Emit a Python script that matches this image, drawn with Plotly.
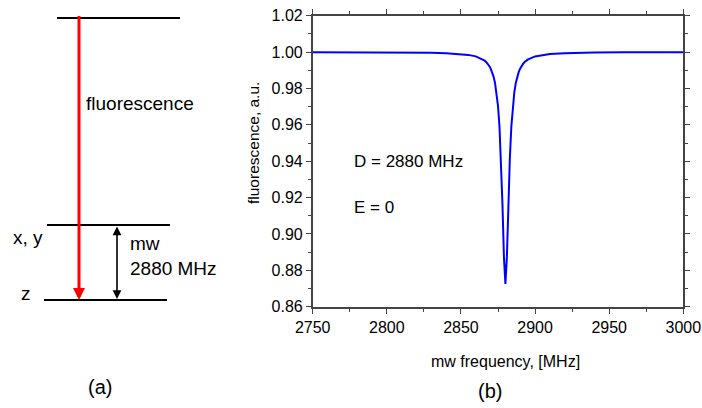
import plotly.graph_objects as go

# ---- right panel data ----
freq = [2750, 2780, 2800, 2820, 2830, 2840, 2850, 2855, 2860, 2865, 2866, 2867, 2868, 2869,
        2870, 2871, 2872, 2873, 2874, 2875, 2876, 2877, 2878, 2879, 2880, 2881, 2882, 2883,
        2884, 2885, 2886, 2887, 2888, 2889, 2890, 2891, 2892, 2893, 2894, 2895, 2900,
        2910, 2920, 2930, 2940, 2960, 2980, 3000]
fluor = [0.99994, 0.99991, 0.99985, 0.99978, 0.99962, 0.99940, 0.99894, 0.99846, 0.99763,
         0.99585, 0.99526, 0.99454, 0.99364, 0.99250, 0.99103, 0.98911, 0.98652, 0.98295,
         0.97786, 0.97039, 0.95908, 0.94178, 0.91661, 0.88739, 0.87250, 0.88739, 0.91661,
         0.94178, 0.95908, 0.97039, 0.97786, 0.98295, 0.98652, 0.98911, 0.99103, 0.99250,
         0.99364, 0.99454, 0.99526, 0.99585, 0.99763, 0.99894, 0.99940, 0.99962, 0.99973,
         0.99985, 0.99991, 0.99994]
x_ticks = [2750, 2800, 2850, 2900, 2950, 3000]
y_ticks = [0.86, 0.88, 0.90, 0.92, 0.94, 0.96, 0.98, 1.00, 1.02]

# ---- left panel diagram data (level positions in diagram units) ----
level_names = ["excited", "x, y", "z"]
level_y = [18, 225, 300]
level_x0 = [57, 47, 44]
level_x1 = [180, 170, 167]
fl_x, fl_y0, fl_y1 = 79, 16, 300
mw_x, mw_y0, mw_y1 = 117, 225, 299

FONT = "Arial, Liberation Sans, sans-serif"
W, H = 702, 408

fig = go.Figure()

fig.add_trace(go.Scatter(x=freq, y=fluor, mode="lines",
                         line=dict(color="#0000ff", width=2), xaxis="x", yaxis="y",
                         showlegend=False, hoverinfo="skip"))

# energy levels
for yv, a, b in zip(level_y, level_x0, level_x1):
    fig.add_trace(go.Scatter(x=[a, b], y=[yv, yv], mode="lines",
                             line=dict(color="black", width=2), xaxis="x2", yaxis="y2",
                             showlegend=False, hoverinfo="skip"))

# red fluorescence arrow
fig.add_trace(go.Scatter(x=[fl_x, fl_x], y=[fl_y0, fl_y1 - 8], mode="lines",
                         line=dict(color="#ff0000", width=3), xaxis="x2", yaxis="y2",
                         showlegend=False, hoverinfo="skip"))
fig.add_annotation(x=fl_x, y=fl_y1, ax=fl_x, ay=fl_y1 - 14, xref="x2", yref="y2",
                   axref="x2", ayref="y2", text="", showarrow=True, arrowhead=2,
                   arrowsize=0.8, arrowwidth=3, arrowcolor="#ff0000", standoff=0)

# mw double arrow
fig.add_annotation(x=mw_x, y=mw_y1, ax=mw_x, ay=mw_y0, xref="x2", yref="y2",
                   axref="x2", ayref="y2", text="", showarrow=True, arrowhead=2,
                   arrowside="end+start", arrowsize=1.1, arrowwidth=1.6,
                   arrowcolor="black", standoff=0, startstandoff=0)

def txt(x, y, s, size, xanchor="left", xref="x2", yref="y2", angle=0):
    fig.add_annotation(x=x, y=y, xref=xref, yref=yref, text=s, showarrow=False,
                       xanchor=xanchor, yanchor="middle", textangle=angle,
                       font=dict(family=FONT, size=size, color="black"))

txt(84, 103, "fluorescence", 19)
txt(11, 237, "x, y", 19)
txt(128, 243, "mw", 19)
txt(128, 268, "2880 MHz", 19)
txt(19, 293, "z", 19)
txt(100, 387, "(a)", 20, xanchor="center")

# right panel texts (paper px)
txt(352 / W, 1 - 162 / H, "D = 2880 MHz", 17, xref="paper", yref="paper")
txt(352 / W, 1 - 207 / H, "E = 0", 17, xref="paper", yref="paper")
txt(505 / W, 1 - 361 / H, "mw frequency, [MHz]", 16, xanchor="center", xref="paper", yref="paper")
txt(490 / W, 1 - 391 / H, "(b)", 20, xanchor="center", xref="paper", yref="paper")
txt(253 / W, 1 - 143 / H, "fluorescence, a.u.", 15.5, xanchor="center", xref="paper",
    yref="paper", angle=-90)

axcol = "#444444"
fig.update_layout(
    template="none",
    width=W, height=H, margin=dict(l=0, r=0, t=0, b=0, pad=0, autoexpand=False),
    paper_bgcolor="white", plot_bgcolor="white",
    font=dict(family=FONT, size=16, color="black"),
    xaxis=dict(domain=[312.7 / W, 683.3 / W], range=[2750, 3000], tickvals=x_ticks,
               ticks="outside", ticklen=5, tickwidth=1.2, tickcolor=axcol,
               showline=True, linecolor=axcol, linewidth=1.6, mirror="ticks",
               showgrid=False, zeroline=False, tickfont=dict(size=16), automargin=False,
               minor=dict(dtick=25, tick0=2750, ticks="outside", ticklen=3, tickcolor=axcol,
                          showgrid=False)),
    yaxis=dict(domain=[1 - 306.7 / H, 1 - 15.7 / H], range=[0.86, 1.02], tickvals=y_ticks,
               tickformat=".2f", ticks="outside", ticklen=5, tickwidth=1.2, tickcolor=axcol,
               showline=True, linecolor=axcol, linewidth=1.6, mirror="ticks",
               showgrid=False, zeroline=False, tickfont=dict(size=16), automargin=False,
               minor=dict(dtick=0.01, tick0=0.86, ticks="outside", ticklen=3, tickcolor=axcol,
                          showgrid=False)),
    xaxis2=dict(domain=[0, 0.34], range=[0, 0.34 * W], visible=False, fixedrange=True,
                automargin=False),
    yaxis2=dict(domain=[0, 1], range=[H, 0], visible=False, fixedrange=True, anchor="x2",
                automargin=False),
)

fig.write_html("out.html")
